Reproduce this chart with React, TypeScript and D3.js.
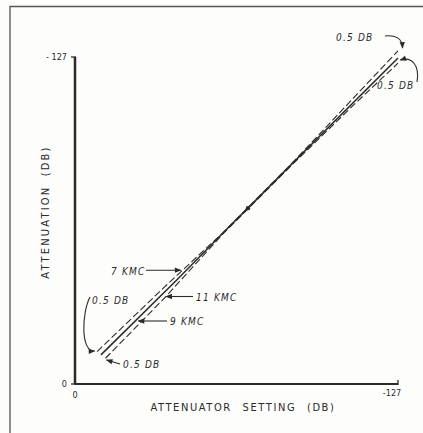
import * as d3 from 'd3'
import React, { useRef, useEffect } from 'react'

// attenuator setting (x) vs measured attenuation (y), both in DB
const xTicks = [0, -127]
const yTicks = [0, -127]

// three frequency traces as [setting, attenuation]
const kmc7 = [[-8.7, -12.6], [-35, -37.5], [-58, -58.6], [-85, -85.4], [-110, -111.6], [-127, -129.4]]
const kmc9 = [[-10.2, -11.3], [-40, -40.4], [-60, -60.5], [-68, -68.3], [-85, -85.2], [-127, -126.6]]
const kmc11 = [[-12.0, -10.0], [-35, -33.2], [-58, -58.1], [-85, -84.8], [-110, -108.8], [-127, -124.6]]

const series = [
    { name: '7 KMC', points: kmc7, dash: '7,3' },
    { name: '9 KMC', points: kmc9, dash: null },
    { name: '11 KMC', points: kmc11, dash: '7,3' },
]

const ink = '#2a2a2a'
const font = "'DejaVu Sans Condensed', 'Liberation Sans Narrow', sans-serif"

export default function App() {
    const svgRef = useRef(null)

    useEffect(() => {
        const w = 423
        const h = 433
        const svg = d3.select(svgRef.current)
        svg.selectAll('*').remove()

        const x = d3.scaleLinear().domain([0, -127]).range([75, 398])
        const y = d3.scaleLinear().domain([0, -127]).range([384, 57])

        svg.append('rect').attr('width', w).attr('height', h).attr('fill', '#fdfdfc')

        // frame of the figure (only top and left edges show)
        svg.append('path')
            .attr('d', 'M10,433 L10,6.5 L423,6.5')
            .attr('fill', 'none').attr('stroke', '#555').attr('stroke-width', 1.3)

        // axes
        svg.append('line')
            .attr('x1', x(0)).attr('x2', x(0)).attr('y1', y(0)).attr('y2', y(-127))
            .attr('stroke', ink).attr('stroke-width', 2.5)
        svg.append('line')
            .attr('x1', x(0)).attr('x2', x(-127)).attr('y1', y(0)).attr('y2', y(0))
            .attr('stroke', ink).attr('stroke-width', 2.2)

        // ticks
        svg.selectAll('.yt').data(yTicks).join('line')
            .attr('x1', x(0) - 4).attr('x2', x(0) + 1)
            .attr('y1', d => y(d)).attr('y2', d => y(d))
            .attr('stroke', ink).attr('stroke-width', 1.3)
        svg.selectAll('.xt').data(xTicks).join('line')
            .attr('x1', d => x(d)).attr('x2', d => x(d))
            .attr('y1', y(0) + 1).attr('y2', y(0) - 4)
            .attr('stroke', ink).attr('stroke-width', 1.3)

        // tick labels
        svg.selectAll('.yl').data(yTicks).join('text')
            .text(d => d === 0 ? '0' : `- ${Math.abs(d)}`)
            .attr('x', x(0) - 8).attr('y', d => y(d) + 3)
            .attr('text-anchor', 'end')
            .style('font-family', font).style('font-size', '9px').attr('fill', ink)
        svg.selectAll('.xl').data(xTicks).join('text')
            .text(d => d === 0 ? '0' : `-${Math.abs(d)}`)
            .attr('x', d => x(d) + (d === 0 ? 0 : -6)).attr('y', d => d === 0 ? y(0) + 14 : y(0) + 12)
            .attr('text-anchor', 'middle')
            .style('font-family', font).style('font-size', '9px').attr('fill', ink)

        // axis titles
        svg.append('text')
            .text('ATTENUATOR  SETTING  (DB)')
            .attr('x', 243).attr('y', 411)
            .attr('text-anchor', 'middle')
            .style('font-family', font).style('font-size', '11px')
            .style('letter-spacing', '1.6px').style('word-spacing', '6px').attr('fill', ink)
        svg.append('text')
            .text('ATTENUATION  (DB)')
            .attr('transform', 'translate(49,212) rotate(-90)')
            .attr('text-anchor', 'middle')
            .style('font-family', font).style('font-size', '11px')
            .style('letter-spacing', '2.2px').style('word-spacing', '4px').attr('fill', ink)

        // traces
        const line = d3.line().x(d => x(d[0])).y(d => y(d[1]))
        svg.selectAll('.trace').data(series).join('path')
            .attr('d', d => line(d.points))
            .attr('fill', 'none')
            .attr('stroke', ink)
            .attr('stroke-width', d => d.dash ? 1.1 : 1.5)
            .attr('stroke-dasharray', d => d.dash)

        // dot at mid point of the center trace
        svg.append('circle')
            .attr('cx', x(kmc9[3][0])).attr('cy', y(kmc9[3][1])).attr('r', 2.2).attr('fill', ink)

        // arrowhead marker
        svg.append('defs').append('marker')
            .attr('id', 'ah').attr('viewBox', '0 0 10 10')
            .attr('refX', 9).attr('refY', 5)
            .attr('markerWidth', 7).attr('markerHeight', 6)
            .attr('orient', 'auto-start-reverse')
            .append('path').attr('d', 'M0,1 L10,5 L0,9 Z').attr('fill', ink)

        const label = (t, lx, ly, anchor = 'start') =>
            svg.append('text').text(t)
                .attr('x', lx).attr('y', ly).attr('text-anchor', anchor)
                .style('font-family', font).style('font-size', '10px').style('font-style', 'italic')
                .style('letter-spacing', '1.2px').attr('fill', ink)

        const arrow = d => svg.append('path').attr('d', d)
            .attr('fill', 'none').attr('stroke', ink).attr('stroke-width', 1.1)
            .attr('marker-end', 'url(#ah)')

        // frequency call-outs
        const p7 = [x(-42), y(-44.2)]
        label('7 KMC', 111, 275)
        arrow(`M146,${p7[1]} L${p7[0] - 1},${p7[1]}`)

        const p11 = [x(-35), y(-33.2)]
        label('11 KMC', 196, 301)
        arrow(`M193,296.5 L${p11[0] + 2},${296.5}`)

        label('9 KMC', 170, 325)
        arrow(`M167,321 L${x(-24.5) + 1},321`)

        // 0.5 DB call-outs
        label('0.5 DB', 336, 41)
        arrow(`M385,36 C396,35 402,38 ${x(-128) + 2},${y(-130.5)}`)

        label('0.5 DB', 377, 89)
        arrow(`M417,82 C420,66 412,56 ${x(-127.5) + 1},${y(-125.8)}`)

        label('0.5 DB', 92, 304)
        arrow(`M90,297 C82,312 80,352 ${x(-8.5) - 2},${y(-12.8)}`)

        label('0.5 DB', 123, 368)
        arrow(`M120,364 L${x(-12) + 1},${y(-9.3)}`)
    }, [])

    return (
        <div style={{ position: 'absolute', left: 0, top: 0 }}>
            <svg ref={svgRef} width={423} height={433} style={{ display: 'block' }}></svg>
        </div>
    )
}
